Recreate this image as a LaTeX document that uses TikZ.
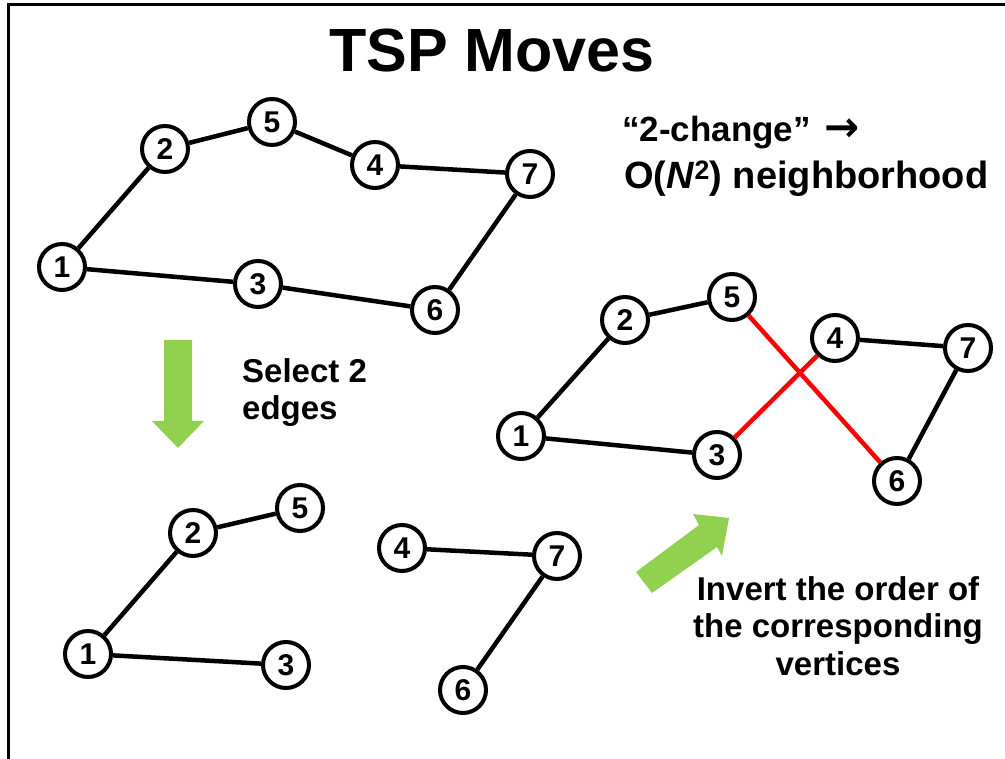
\documentclass[tikz,border=0pt]{standalone}
\usepackage{fontspec}
\setmainfont{Liberation Sans}
\newfontfamily\arrowfont{DejaVu Sans}
\usetikzlibrary{arrows.meta}
\definecolor{arrowgreen}{RGB}{146,208,80}
\definecolor{swapred}{RGB}{255,0,0}

\begin{document}
\begin{tikzpicture}[
  x=1pt, y=-1pt,
  city/.style={
    circle,
    draw,
    line width=4pt,
    fill=white,
    minimum size=46pt,
    inner sep=0pt,
    font=\fontsize{30}{30}\selectfont\bfseries
  },
  tour/.style={
    line width=4.5pt
  },
  swap/.style={
    line width=4.5pt,
    draw=swapred
  },
  note/.style={
    inner sep=0pt,
    font=\fontsize{33}{37.5}\selectfont\bfseries
  },
  movearrow/.style={
    fill=arrowgreen
  }
  ]

  \useasboundingbox (0,0) rectangle (1005,759);
  \draw[line width=3pt] (8.5,759) -- (8.5,5) -- (1005,5);

  \node[inner sep=0pt, anchor=base, font=\fontsize{61}{61}\selectfont\bfseries] (title) at (492,72) {TSP Moves};

  % original tour
  \node[city] (t1) at (62,267) {1};
  \node[city] (t2) at (165,149) {2};
  \node[city] (t5) at (272,122) {5};
  \node[city] (t4) at (375,165) {4};
  \node[city] (t7) at (530,174) {7};
  \node[city] (t3) at (258,284) {3};
  \node[city] (t6) at (435,310) {6};

  \draw[tour] (t1) -- (t2);
  \draw[tour] (t2) -- (t5);
  \draw[tour] (t5) -- (t4);
  \draw[tour] (t4) -- (t7);
  \draw[tour] (t7) -- (t6);
  \draw[tour] (t6) -- (t3);
  \draw[tour] (t3) -- (t1);

  % two edges removed
  \node[city] (b1) at (88,654) {1};
  \node[city] (b2) at (193,533) {2};
  \node[city] (b5) at (300,508) {5};
  \node[city] (b3) at (286,665) {3};
  \node[city] (b4) at (402,548) {4};
  \node[city] (b7) at (557,556) {7};
  \node[city] (b6) at (463,690) {6};

  \draw[tour] (b1) -- (b2);
  \draw[tour] (b2) -- (b5);
  \draw[tour] (b1) -- (b3);
  \draw[tour] (b4) -- (b7);
  \draw[tour] (b7) -- (b6);

  % new tour
  \node[city] (r1) at (521,436) {1};
  \node[city] (r2) at (625,320) {2};
  \node[city] (r5) at (732,297) {5};
  \node[city] (r4) at (835,338) {4};
  \node[city] (r7) at (968,348) {7};
  \node[city] (r3) at (717,455) {3};
  \node[city] (r6) at (897,481) {6};

  \draw[tour] (r1) -- (r2);
  \draw[tour] (r2) -- (r5);
  \draw[tour] (r1) -- (r3);
  \draw[tour] (r4) -- (r7);
  \draw[tour] (r7) -- (r6);
  \draw[swap] (r5) -- (r6);
  \draw[swap] (r3) -- (r4);

  % arrows and notes
  \fill[movearrow] (164,340) -- (192,340) -- (192,421) -- (204,421) -- (178,448)
    -- (152,421) -- (164,421) -- cycle;
  \fill[movearrow] (636,572) -- (699,525) -- (693,514) -- (729,518) -- (722,556)
    -- (717,547) -- (652,593) -- cycle;

  \node[note, anchor=base west, align=left] (select) at (242,420) {Select 2\\edges};
  \node[note, anchor=base, align=center] (invert) at (838,675)
    {Invert the order of\\the corresponding\\vertices};
  \node[note, anchor=base west, font=\fontsize{35}{38}\selectfont\bfseries] (change) at (622,142)
    {“2-change”\hspace{14pt}{\arrowfont\fontsize{42}{42}\selectfont →}};
  \node[note, anchor=base west, font=\fontsize{38}{40}\selectfont\bfseries] (hood) at (624,189)
    {O(\textit{N}\textsuperscript{2}) neighborhood};

\end{tikzpicture}
\end{document}
